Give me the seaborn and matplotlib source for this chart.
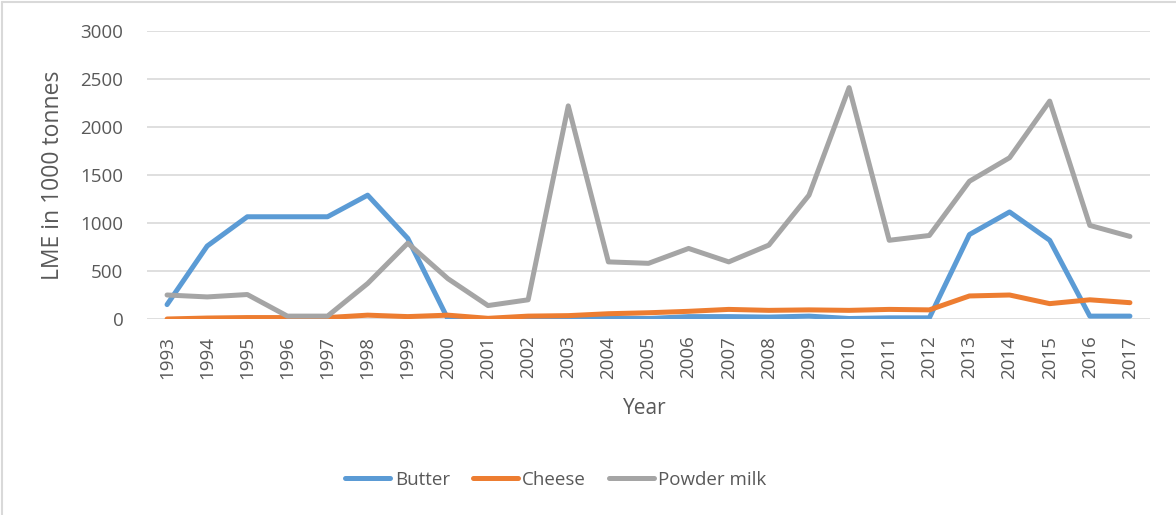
import matplotlib
matplotlib.use("Agg")
import matplotlib.pyplot as plt
from matplotlib.lines import Line2D
import seaborn as sns
import pandas as pd

# Annual values, LME in 1000 tonnes
years = list(range(1993, 2018))
butter = [150, 760, 1065, 1065, 1065, 1290, 840, 0, 5, 5, 5, 10, 5, 25, 25, 20, 30,
          5, 12, 12, 880, 1115, 820, 30, 30]
cheese = [0, 10, 15, 15, 15, 40, 25, 40, 7, 30, 35, 55, 65, 80, 100, 90, 95,
          90, 100, 95, 240, 250, 160, 200, 170]
powder_milk = [250, 230, 255, 30, 30, 370, 790, 420, 140, 200, 2220, 595, 580, 735, 595,
               770, 1290, 2410, 820, 870, 1435, 1680, 2270, 975, 860]
series_names = ["Butter", "Cheese", "Powder milk"]
colors = ["#5B9BD5", "#ED7D31", "#A5A5A5"]
y_ticks = [0, 500, 1000, 1500, 2000, 2500, 3000]

df = pd.DataFrame({
    "Year": years * 3,
    "value": butter + cheese + powder_milk,
    "series": [s for s, vals in zip(series_names, [butter, cheese, powder_milk]) for _ in vals],
})

sns.set_theme(style="white")
plt.rcParams["font.family"] = ["Open Sans", "DejaVu Sans"]
text_gray = "#595959"

fig = plt.figure(figsize=(11.76, 5.15), dpi=100)
ax = fig.add_axes([147 / 1176, 1 - 319 / 515, (1150 - 147) / 1176, (319 - 31) / 515])

sns.lineplot(data=df, x="Year", y="value", hue="series", hue_order=series_names,
             palette=colors, linewidth=3.6, ax=ax, legend=False,
             solid_capstyle="round", solid_joinstyle="round")

ax.set_xlim(1992.5, 2017.5)
ax.set_ylim(0, 3000)
ax.set_yticks(y_ticks)
ax.set_yticklabels([str(t) for t in y_ticks])
ax.set_xticks(years)
ax.set_xticklabels([str(y) for y in years], rotation=90)
ax.tick_params(axis="y", length=0, pad=17, labelsize=13.5, labelcolor=text_gray)
ax.tick_params(axis="x", length=0, pad=12, labelsize=13.5, labelcolor=text_gray)
ax.grid(axis="y", color="#D9D9D9", linewidth=1.2)
ax.set_axisbelow(True)
for side in ["left", "right", "top", "bottom"]:
    ax.spines[side].set_visible(False)

ax.set_xlabel("Year", fontsize=15, color=text_gray)
ax.set_ylabel("LME in 1000 tonnes", fontsize=16.5, color=text_gray)
ax.xaxis.set_label_coords(0.496, -(409 - 319) / 288, transform=ax.transAxes)
ax.yaxis.set_label_coords(-(147 - 53) / 1003, 0.5, transform=ax.transAxes)
ax.xaxis.label.set_verticalalignment("center")
ax.yaxis.label.set_verticalalignment("center")

handles = [Line2D([0], [0], color=c, linewidth=3.6, solid_capstyle="round") for c in colors]
fig.legend(handles, series_names, loc="center", bbox_to_anchor=(556 / 1176, 1 - 480 / 515),
           ncol=3, frameon=False, fontsize=13.5, labelcolor=text_gray,
           handlelength=2.4, handletextpad=0.25, columnspacing=1.2)

# chart-area frame (left and top edges)
frame_color = "#D9D9D9"
fig.add_artist(Line2D([2 / 1176, 2 / 1176], [0, 1 - 2 / 515], transform=fig.transFigure,
                      color=frame_color, linewidth=1.5))
fig.add_artist(Line2D([2 / 1176, 1], [1 - 2 / 515, 1 - 2 / 515], transform=fig.transFigure,
                      color=frame_color, linewidth=1.5))

fig.savefig("out.png", dpi=100, facecolor="white")
